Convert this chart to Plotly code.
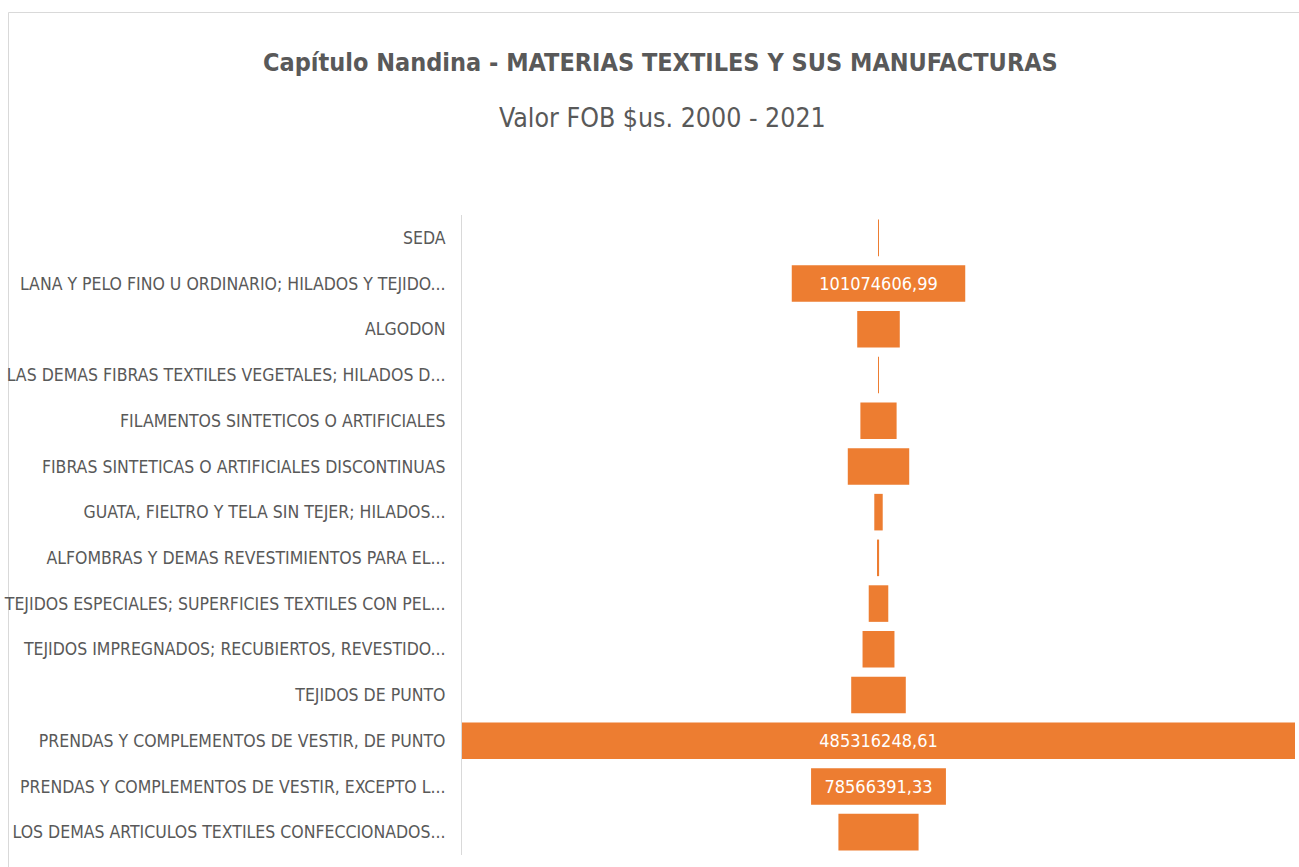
import plotly.graph_objects as go

categories = [
    "SEDA",
    "LANA Y PELO FINO U ORDINARIO; HILADOS Y TEJIDO...",
    "ALGODON",
    "LAS DEMAS FIBRAS TEXTILES VEGETALES; HILADOS D...",
    "FILAMENTOS SINTETICOS O ARTIFICIALES",
    "FIBRAS SINTETICAS O ARTIFICIALES DISCONTINUAS",
    "GUATA, FIELTRO Y TELA SIN TEJER; HILADOS...",
    "ALFOMBRAS Y DEMAS REVESTIMIENTOS PARA EL...",
    "TEJIDOS ESPECIALES; SUPERFICIES TEXTILES CON PEL...",
    "TEJIDOS IMPREGNADOS; RECUBIERTOS, REVESTIDO...",
    "TEJIDOS DE PUNTO",
    "PRENDAS Y COMPLEMENTOS DE VESTIR, DE PUNTO",
    "PRENDAS Y COMPLEMENTOS DE VESTIR, EXCEPTO L...",
    "LOS DEMAS ARTICULOS TEXTILES CONFECCIONADOS...",
]
values = [
    450000.00,
    101074606.99,
    24800000.00,
    550000.00,
    21100000.00,
    35800000.00,
    4900000.00,
    700000.00,
    11400000.00,
    18600000.00,
    31800000.00,
    485316248.61,
    78566391.33,
    46700000.00,
]

title_text = "Capítulo Nandina - MATERIAS TEXTILES Y SUS MANUFACTURAS"
subtitle_text = "Valor FOB $us. 2000 - 2021"

W, H = 1299, 867
L, R, T, B = 462, 4, 215, 12
pw, ph = W - L - R, H - T - B

def px_x(x):
    return (x - L) / pw

def px_y(y):
    return (H - B - y) / ph

font_family = "DejaVu Sans Condensed, Open Sans, sans-serif"
vmax = max(values)

fig = go.Figure(
    go.Funnel(
        y=categories,
        x=values,
        marker=dict(color="#ED7D31", line=dict(width=0)),
        connector=dict(visible=False),
        textposition="inside",
        texttemplate="%{x:.2f}",
        textfont=dict(color="#FFFFFF", size=18, family=font_family),
        insidetextanchor="middle",
        hoverinfo="y+x",
    )
)

fig.update_layout(
    width=W,
    height=H,
    margin=dict(l=L, r=R, t=T, b=B, pad=0, autoexpand=False),
    paper_bgcolor="white",
    plot_bgcolor="white",
    separators=",.",
    bargap=0.09,
    showlegend=False,
    uniformtext=dict(minsize=16, mode="hide"),
    font=dict(family=font_family, color="#595959"),
    xaxis=dict(
        range=[-vmax / 2, vmax / 2],
        visible=False,
        showgrid=False,
        zeroline=False,
        fixedrange=True,
        automargin=False,
    ),
    yaxis=dict(
        showline=True,
        linecolor="#D9D9D9",
        linewidth=1,
        showgrid=False,
        ticks="",
        ticklabelstandoff=12,
        automargin=False,
        tickfont=dict(size=17.5, color="#595959", family=font_family),
        fixedrange=True,
    ),
    annotations=[
        dict(
            text="<b>" + title_text + "</b>",
            xref="paper", yref="paper",
            x=px_x(660), y=px_y(63),
            xanchor="center", yanchor="middle",
            showarrow=False,
            font=dict(size=25, color="#595959", family=font_family),
        ),
        dict(
            text=subtitle_text,
            xref="paper", yref="paper",
            x=px_x(662), y=px_y(117),
            xanchor="center", yanchor="middle",
            showarrow=False,
            font=dict(size=26.5, color="#595959", family=font_family),
        ),
    ],
    shapes=[
        dict(
            type="rect", xref="paper", yref="paper",
            x0=px_x(8.5), x1=px_x(1320), y0=px_y(880), y1=px_y(12.5),
            line=dict(color="#D9D9D9", width=1),
            fillcolor="rgba(0,0,0,0)",
            layer="below",
        )
    ],
)

fig.write_html(
    "out.html",
    config={"displayModeBar": False},
    post_script="document.body.style.margin='0';document.body.style.overflow='hidden';",
)
